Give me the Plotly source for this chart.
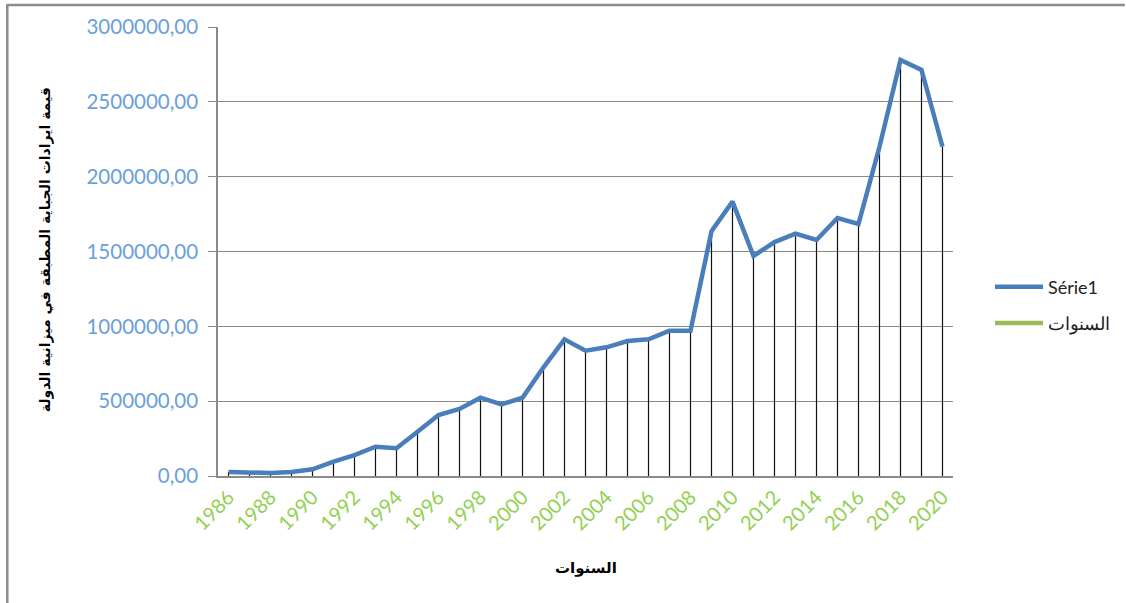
import plotly.graph_objects as go

years = list(range(1986, 2021))
revenue = [27000, 20000, 20000, 27000, 45000, 96000, 140000, 196000, 185000, 296000,
           407000, 448000, 523000, 479000, 523000, 726000, 913000, 837000, 860000, 902000,
           913000, 971000, 971000, 1635000, 1833000, 1470000, 1563000, 1619000, 1577000, 1724000,
           1684000, 2200000, 2779000, 2713000, 2200000]
series_name = "Série1"
second_name = "السنوات"
y_title = "قيمة ايرادات الجباية المطبقة في ميزانية الدولة"
x_title = "السنوات"
x_tickvals = list(range(1986, 2021, 2))

L, R, T, B = 218, 172, 27, 127
W, H = 1126, 603
pw, ph = W - L - R, H - T - B

def px_x(p):
    return (p - L) / pw

def px_y(p):
    return (H - B - p) / ph

fig = go.Figure()

# drop lines
fig.add_trace(go.Scatter(
    x=years, y=revenue, mode="markers", marker=dict(size=0.1, color="rgba(0,0,0,0)"),
    showlegend=False, hoverinfo="skip",
    error_y=dict(type="data", symmetric=False, array=[0] * len(revenue), arrayminus=revenue,
                 width=0, thickness=1.2, color="#111111"),
))

fig.add_trace(go.Scatter(
    x=years, y=revenue, mode="lines", name=series_name, legendgroup="a",
    line=dict(color="#4A7EBB", width=4.5),
))

fig.add_trace(go.Scatter(
    x=[None], y=[None], mode="lines", name=second_name, legendgroup="b",
    line=dict(color="#9BBB59", width=4.5),
))

fig.update_layout(
    width=W, height=H,
    margin=dict(l=L, r=R, t=T, b=B),
    paper_bgcolor="white", plot_bgcolor="white",
    separators=", ",
    font=dict(family="Lato, Carlito, sans-serif"),
    showlegend=True,
    legend=dict(x=px_x(990), y=px_y(305), xanchor="left", yanchor="middle",
                font=dict(size=18, color="#222222", family="Lato, sans-serif"),
                bgcolor="rgba(0,0,0,0)", tracegroupgap=10, itemwidth=48),
    xaxis=dict(
        range=[1985.5, 2020.5], tickmode="array", tickvals=x_tickvals,
        ticktext=[str(v) for v in x_tickvals],
        tickangle=-45, tickfont=dict(size=20, color="#92D050", family="Lato, sans-serif"),
        showgrid=False, showline=True, linecolor="#8a8a8a", linewidth=1.5,
        ticks="", zeroline=False, fixedrange=True,
    ),
    yaxis=dict(
        range=[0, 3000000], dtick=500000, tickformat=".2f",
        tickfont=dict(size=20.5, color="#6A9FDC", family="Lato, sans-serif"),
        showgrid=True, gridcolor="#8a8a8a", gridwidth=1,
        showline=True, linecolor="#8a8a8a", linewidth=1.5,
        ticks="outside", ticklen=8, tickcolor="#8a8a8a", ticklabelstandoff=6,
        zeroline=False, fixedrange=True,
    ),
    annotations=[
        dict(text="<b>" + y_title + "</b>", x=px_x(46), y=px_y(250), xref="paper", yref="paper",
             textangle=-90, showarrow=False, font=dict(size=14, color="black", family="DejaVu Sans, sans-serif"),
             xanchor="center", yanchor="middle"),
        dict(text="<b>" + x_title + "</b>", x=px_x(587), y=px_y(568), xref="paper", yref="paper",
             showarrow=False, font=dict(size=15, color="black", family="DejaVu Sans, sans-serif"),
             xanchor="center", yanchor="middle"),
    ],
    shapes=[
        dict(type="line", xref="paper", yref="paper", x0=px_x(6), x1=px_x(1126), y0=px_y(5), y1=px_y(5),
             line=dict(color="#8c8c8c", width=2.5)),
        dict(type="line", xref="paper", yref="paper", x0=px_x(7), x1=px_x(7), y0=px_y(5), y1=px_y(603),
             line=dict(color="#8c8c8c", width=2.5)),
    ],
)

fig.write_html("out.html", config={"displayModeBar": False},
               post_script="document.body.style.margin='0px';")
